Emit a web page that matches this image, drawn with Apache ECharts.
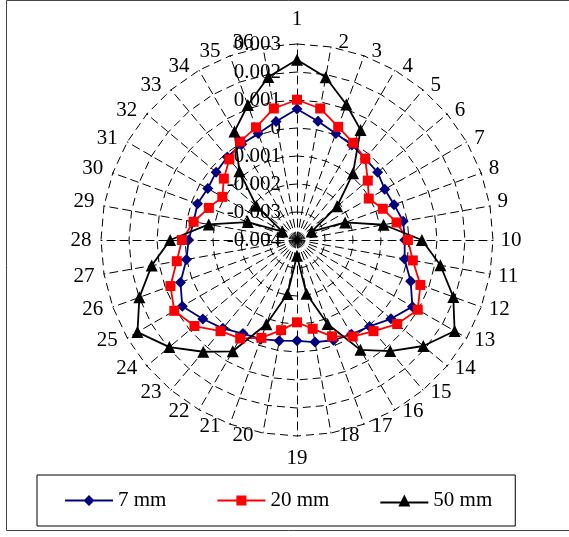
<!DOCTYPE html>
<html><head><meta charset="utf-8">
<script src="https://cdn.jsdelivr.net/npm/echarts@6/dist/echarts.min.js"></script>
<style>html,body{margin:0;padding:0;background:#fff}#c{width:569px;height:537px}</style>
</head><body><div id="c"></div>
<script>
const categories = ['1','2','3','4','5','6','7','8','9','10','11','12','13','14','15','16','17','18',
  '19','20','21','22','23','24','25','26','27','28','29','30','31','32','33','34','35','36'];
const radialTicks = ['-0.004','-0.003','-0.002','-0.001','0','0.001','0.002','0.003'];
const seriesNames = ['7 mm', '20 mm', '50 mm'];
const s7mm = [0.00068,0.00031,0.00005,-0.00008,-0.00021,-0.00024,-0.00038,-0.00031,-0.00015,-0.00015,-0.00010,0.00032,
  0.00076,0.00038,0.00003,-0.00011,-0.00019,-0.00030,-0.00040,-0.00035,-0.00023,-0.00014,0.00012,0.00039,
  0.00073,0.00043,0.00001,-0.00013,-0.00025,-0.00022,-0.00032,-0.00023,-0.00013,-0.00005,0.00005,0.00030];
const s20mm = [0.00101,0.00077,0.00030,0.00001,-0.00021,-0.00070,-0.00104,-0.00074,-0.00039,-0.00004,0.00020,0.00069,
  0.00098,0.00067,0.00025,-0.00002,-0.00034,-0.00078,-0.00106,-0.00073,-0.00028,0.00006,0.00025,0.00078,
  0.00106,0.00081,0.00036,0.00011,-0.00025,-0.00065,-0.00092,-0.00059,-0.00024,0.00006,0.00028,0.00077];
const s50mm = [0.00244,0.00190,0.00115,0.00054,-0.00089,-0.00213,-0.00340,-0.00217,-0.00086,0.00046,0.00120,0.00194,
  0.00250,0.00189,0.00118,0.00053,-0.00081,-0.00205,-0.00344,-0.00204,-0.00080,0.00059,0.00121,0.00195,
  0.00258,0.00199,0.00127,0.00053,-0.00080,-0.00213,-0.00340,-0.00210,-0.00080,0.00047,0.00113,0.00191];

const FONT = '"Liberation Serif", "Times New Roman", serif';
const FS = 21;
const N = categories.length;
// ECharts radar runs counter-clockwise; reorder so that categories run clockwise
const order = categories.map((_, k) => (N - k) % N);
const reorder = arr => order.map(i => arr[i]);
const rMin = parseFloat(radialTicks[0]);
const rMax = parseFloat(radialTicks[radialTicks.length - 1]);

const indicator = order.map((i, k) => ({
  name: categories[i], min: rMin, max: rMax,
  axisLabel: { show: k === 0 }
}));

// Excel-like placement of the category labels around the rim (text centred,
// then shifted sideways/vertically from the spoke end by a rich-text padding)
const nameRich = {};
categories.forEach((c, i) => {
  const deg = i * 360 / N;
  const w = c.length * FS * 0.5;
  let dx = 0, dy = 0;
  if (deg === 0) { dy = -25; }
  else if (deg === 180) { dy = 22; }
  else if (deg < 180) { dx = 7.5 + w / 2; dy = deg < 90 ? -4 : (deg > 90 ? 2 : 0); }
  else { dx = -(9.5 + w / 2); dy = deg > 270 ? -4 : (deg < 270 ? 2 : 0); }
  nameRich['c' + i] = {
    fontFamily: FONT, fontSize: FS, color: '#000',
    padding: [Math.max(0, 2 * dy), Math.max(0, -2 * dx), Math.max(0, -2 * dy), Math.max(0, 2 * dx)]
  };
});

const icons = {
  diamond: 'path://M0,4.9L48,4.9L48,7.1L0,7.1ZM24,0.5L29.5,6L24,11.5L18.5,6Z',
  rect: 'path://M0,4.9L48,4.9L48,7.1L0,7.1ZM19,1L29,1L29,11L19,11Z',
  triangle: 'path://M0,6.9L48,6.9L48,9.1L0,9.1ZM24,0L30,12L18,12Z'
};

const styles = [
  { color: '#000080', symbol: 'diamond', size: 11 },
  { color: '#FF0000', symbol: 'rect', size: 10 },
  { color: '#000000', symbol: 'triangle', size: 12 }
];
const values = [s7mm, s20mm, s50mm];

const chart = echarts.init(document.getElementById('c'), null, { renderer: 'canvas' });
chart.setOption({
  animation: false,
  backgroundColor: '#ffffff',
  graphic: [{
    type: 'rect', silent: true,
    shape: { x: 6.5, y: 0.5, width: 575, height: 530 },
    style: { fill: 'none', stroke: '#444', lineWidth: 1 }
  }],
  legend: {
    left: 37, top: 475,
    itemWidth: 48, itemHeight: 12, itemGap: 51,
    padding: [15, 23, 15, 28],
    borderColor: '#000', borderWidth: 1,
    textStyle: { fontFamily: FONT, fontSize: FS, color: '#000' },
    data: seriesNames.map((n, i) => ({ name: n, icon: icons[styles[i].symbol] }))
  },
  radar: {
    center: [297, 240],
    radius: 196,
    startAngle: 90,
    splitNumber: radialTicks.length - 1,
    shape: 'polygon',
    nameGap: 0,
    indicator: indicator,
    axisName: {
      color: '#000', fontFamily: FONT, fontSize: FS,
      align: 'center', verticalAlign: 'middle',
      formatter: name => '{c' + categories.indexOf(name) + '|' + name + '}',
      rich: nameRich
    },
    axisLine: { lineStyle: { color: '#000', type: [8, 5], width: 1 } },
    splitLine: { lineStyle: { color: '#000', type: [8, 5], width: 1 } },
    splitArea: { show: false },
    axisTick: { show: false },
    axisLabel: {
      show: true, color: '#000', fontFamily: FONT, fontSize: FS, margin: 16,
      formatter: v => {
        const r = Math.round(v * 1000);
        return radialTicks[r - Math.round(rMin * 1000)];
      }
    }
  },
  series: seriesNames.map((n, i) => ({
    type: 'radar',
    name: n,
    symbol: styles[i].symbol,
    symbolSize: styles[i].size,
    lineStyle: { color: styles[i].color, width: 1.8 },
    itemStyle: { color: styles[i].color },
    data: [{ name: n, value: reorder(values[i]) }]
  }))
});
</script></body></html>
